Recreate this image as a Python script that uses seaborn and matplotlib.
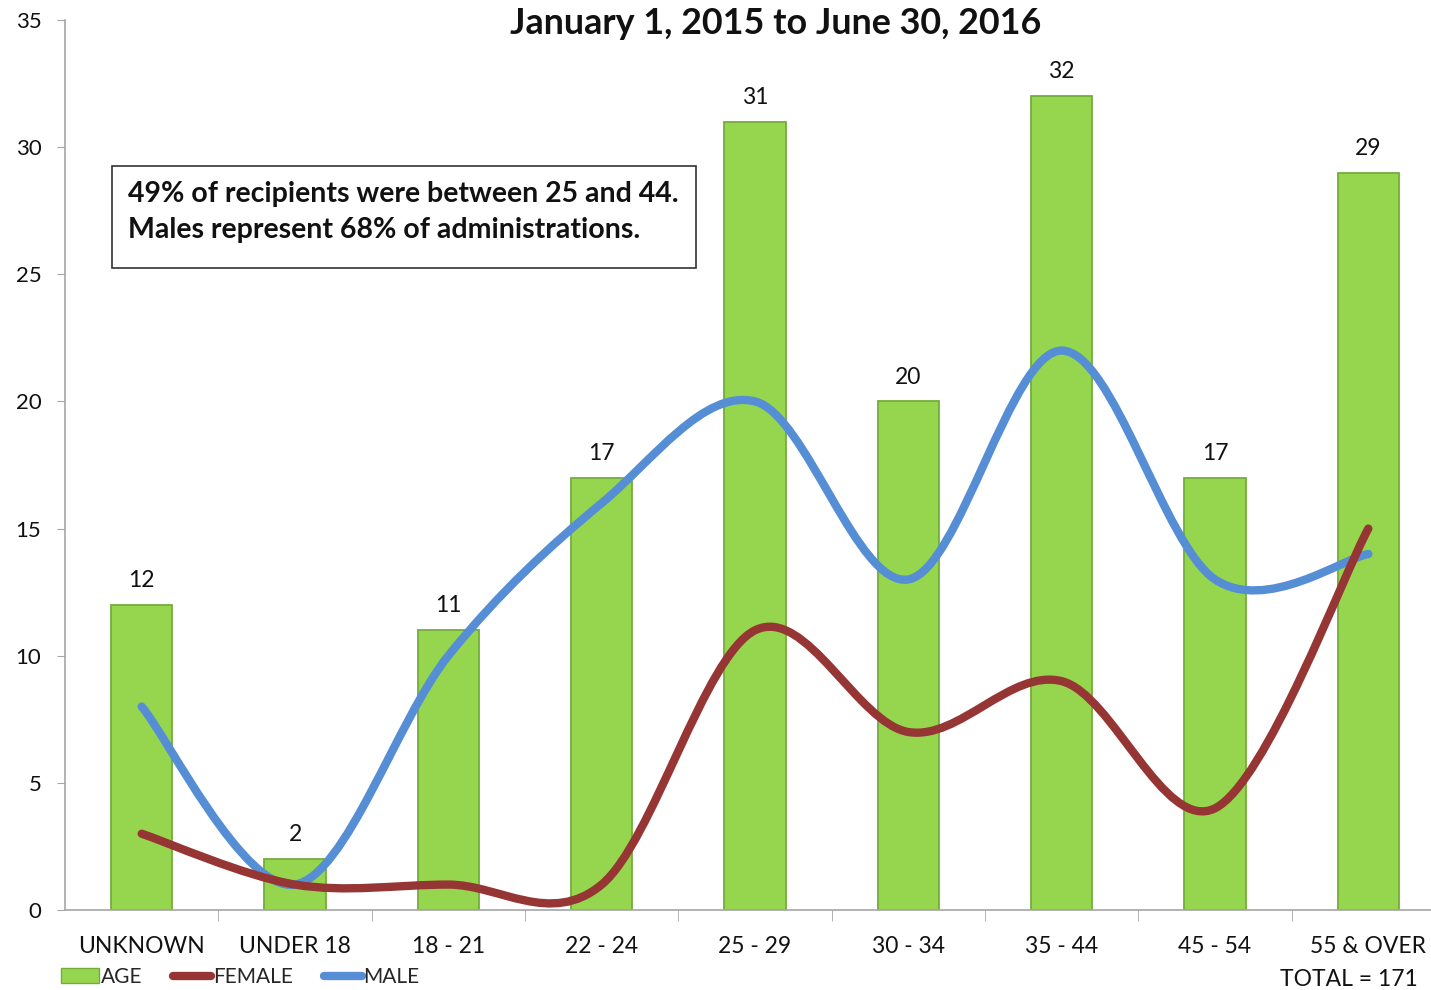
import numpy as np
import pandas as pd
import matplotlib
matplotlib.use('Agg')
import matplotlib.pyplot as plt
import seaborn as sns
from matplotlib.path import Path
from matplotlib.patches import PathPatch, Patch, Rectangle
from matplotlib.lines import Line2D

# Datos
age_groups = ['UNKNOWN', 'UNDER 18', '18 - 21', '22 - 24', '25 - 29',
              '30 - 34', '35 - 44', '45 - 54', '55 & OVER']
age_totals = [12, 2, 11, 17, 31, 20, 32, 17, 29]
female = [3, 1, 1, 1, 11, 7, 9, 4, 15]
male = [8, 1, 10, 16, 20, 13, 22, 13, 14]
y_ticks = [0, 5, 10, 15, 20, 25, 30, 35]

title = 'January 1, 2015 to June 30, 2016'
note = '49% of recipients were between 25 and 44.\nMales represent 68% of administrations.'
total_text = 'TOTAL = 171'

green = '#96D64F'
red = '#963634'
blue = '#558ED5'
grey = '#A6A6A6'
ink = '#111111'

sns.set_style('white')
plt.rcParams['font.family'] = ['Lato', 'DejaVu Sans']


def smooth_path(xs, ys):
    # curva Bezier tipo "linea suavizada" de Excel, pasa por cada punto
    pts = np.column_stack([xs, ys]).astype(float)
    n = len(pts)
    verts = [pts[0]]
    codes = [Path.MOVETO]
    for i in range(n - 1):
        p0 = pts[i - 1] if i > 0 else pts[i]
        p1 = pts[i]
        p2 = pts[i + 1]
        p3 = pts[i + 2] if i + 2 < n else pts[i + 1]
        c1 = p1 + (p2 - p0) / 6
        c2 = p2 - (p3 - p1) / 6
        verts += [c1, c2, p2]
        codes += [Path.CURVE4] * 3
    return Path(verts, codes)


df = pd.DataFrame({'group': age_groups, 'total': age_totals})

fig = plt.figure(figsize=(14.31, 9.9), dpi=100)
ax = fig.add_axes([65 / 1431, 80 / 990, (1445 - 65) / 1431, 890 / 990])

sns.barplot(data=df, x='group', y='total', color=green, saturation=1,
            width=0.4, edgecolor='#74AD3C', linewidth=1.3, ax=ax, zorder=2)
ax.bar_label(ax.containers[0], padding=10, fontsize=16.5, color=ink)

x_pos = np.arange(len(age_groups))
ax.add_patch(PathPatch(smooth_path(x_pos, male), fill=False, edgecolor=blue,
                       lw=6, capstyle='round', zorder=3))
ax.add_patch(PathPatch(smooth_path(x_pos, female), fill=False, edgecolor=red,
                       lw=6, capstyle='round', zorder=4))

ax.set_xlim(-0.5, 8.5)
ax.set_ylim(0, 35)
ax.set_yticks(y_ticks)
ax.set_xlabel('')
ax.set_ylabel('')

for s in ['top', 'right']:
    ax.spines[s].set_visible(False)
for s in ['left', 'bottom']:
    ax.spines[s].set_color(grey)
    ax.spines[s].set_linewidth(1.2)

ax.tick_params(axis='y', which='major', left=True, length=6, color=grey,
               labelsize=16, pad=11, labelcolor=ink)
ax.tick_params(axis='x', which='major', bottom=False, labelsize=16.5, pad=15,
               labelcolor=ink)
ax.set_xticks(np.arange(0.5, 8.5, 1), minor=True)
ax.tick_params(axis='x', which='minor', bottom=True, length=8, color=grey,
               direction='out')

fig.text(776 / 1431, 1 - 24 / 990, title, ha='center', va='center',
         fontsize=25.8, fontweight='bold', color=ink)

fig.add_artist(Rectangle((112 / 1431, 1 - 268 / 990), 584 / 1431, 102 / 990,
                         transform=fig.transFigure, facecolor='white',
                         edgecolor='#333333', lw=1.2, zorder=5))
fig.text(128 / 1431, 1 - 212 / 990, note, ha='left', va='center',
         fontsize=20.5, fontweight='bold', linespacing=1.45, color=ink,
         zorder=6)

handles = [Patch(facecolor=green, edgecolor='#74AD3C'),
           Line2D([0], [0], color=red, lw=6, solid_capstyle='round'),
           Line2D([0], [0], color=blue, lw=6, solid_capstyle='round')]
fig.legend(handles, ['AGE', 'FEMALE', 'MALE'], loc='center left',
           bbox_to_anchor=(61 / 1431, 1 - 977 / 990), ncol=3, frameon=False,
           handlelength=1.8, handletextpad=0.1, columnspacing=1.5,
           fontsize=15, borderaxespad=0, borderpad=0)

fig.text(1418 / 1431, 1 - 979 / 990, total_text, ha='right', va='center',
         fontsize=16.5, color=ink)

fig.savefig('out.png', dpi=100)
